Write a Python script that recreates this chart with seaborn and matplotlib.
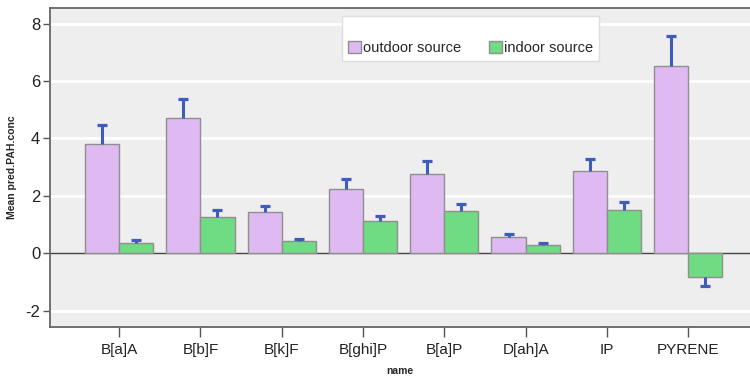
import matplotlib
matplotlib.use("Agg")
import matplotlib.pyplot as plt
import seaborn as sns
import pandas as pd
import numpy as np

# PAH compounds and their mean predicted concentrations by source
names = ["B[a]A", "B[b]F", "B[k]F", "B[ghi]P", "B[a]P", "D[ah]A", "IP", "PYRENE"]
sources = ["outdoor source", "indoor source"]
outdoor_mean = [3.81, 4.71, 1.42, 2.23, 2.77, 0.56, 2.85, 6.52]
indoor_mean = [0.34, 1.27, 0.42, 1.13, 1.48, 0.27, 1.51, -0.84]
# length of the error bar (drawn one-sided, away from zero)
outdoor_err = [0.65, 0.66, 0.23, 0.35, 0.45, 0.10, 0.43, 1.06]
indoor_err = [0.12, 0.22, 0.09, 0.17, 0.24, 0.08, 0.28, 0.31]
yticks = [-2, 0, 2, 4, 6, 8]

df = pd.DataFrame({
    "name": names * 2,
    "source": [sources[0]] * len(names) + [sources[1]] * len(names),
    "conc": outdoor_mean + indoor_mean,
})
errs = {sources[0]: outdoor_err, sources[1]: indoor_err}

sns.set_theme(style="white")
plt.rcParams["font.family"] = ["Liberation Sans", "DejaVu Sans"]

fig = plt.figure(figsize=(7.5, 3.84), dpi=100)
ax = fig.add_axes([50 / 750, 57.3 / 384, 700 / 750, 319.2 / 384])
ax.set_facecolor("#eeeeee")

palette = {sources[0]: "#dfbaf2", sources[1]: "#6fdc83"}
sns.barplot(data=df, x="name", y="conc", hue="source", order=names,
            hue_order=sources, palette=palette, errorbar=None, width=0.84,
            edgecolor="#8f8f8f", linewidth=1.0, saturation=1, ax=ax, zorder=3)

# one-sided error bars with a single cap, at the centres of the drawn bars
err_color = "#3f5cb8"
for container, src in zip(ax.containers, sources):
    for bar, e in zip(container, errs[src]):
        x = bar.get_x() + bar.get_width() / 2
        top = bar.get_y() + bar.get_height()
        end = top + e if top >= 0 else top - e
        ax.vlines(x, top, end, color=err_color, lw=2.2, zorder=4)
        ax.plot([x], [end], marker="_", markersize=6.5, mew=2.3,
                color=err_color, zorder=4)

ax.set_ylim(-2.56, 8.56)
ax.set_xlim(-0.85, 7.76)
ax.set_yticks(yticks)
ax.set_yticklabels([str(t) for t in yticks], fontsize=12, color="#222222")
ax.tick_params(axis="x", labelsize=11, colors="#222222", length=7.5,
               width=1, color="#555555", pad=4)
ax.tick_params(axis="y", length=5, width=1, color="#555555", pad=2)
ax.tick_params(axis="both", direction="out", bottom=True, left=True)

for t in yticks:
    if t != 0:
        ax.axhline(t, color="white", lw=2.0, zorder=1)
ax.axhline(0, color="#444444", lw=1.0, zorder=2)

for side in ["left", "bottom", "top"]:
    ax.spines[side].set_color("#666666")
    ax.spines[side].set_linewidth(1.3)
ax.spines["right"].set_visible(False)

ax.set_xlabel("name", fontsize=7.5, fontweight="bold", labelpad=7)
ax.set_ylabel("Mean pred.PAH.conc", fontsize=7.5, fontweight="bold", labelpad=6)

handles, labels = ax.get_legend_handles_labels()
leg = ax.legend(handles, labels, ncol=2, loc="upper left",
                bbox_to_anchor=(0.417, 0.973), title=" ", title_fontsize=8.5,
                fontsize=10.5, frameon=True, fancybox=False, framealpha=1,
                edgecolor="#dddddd", handlelength=0.9, handleheight=0.9,
                handletextpad=0.15, columnspacing=1.9, borderpad=0.4,
                borderaxespad=0)
leg.get_frame().set_linewidth(1.0)

fig.savefig("out.png", dpi=100)
